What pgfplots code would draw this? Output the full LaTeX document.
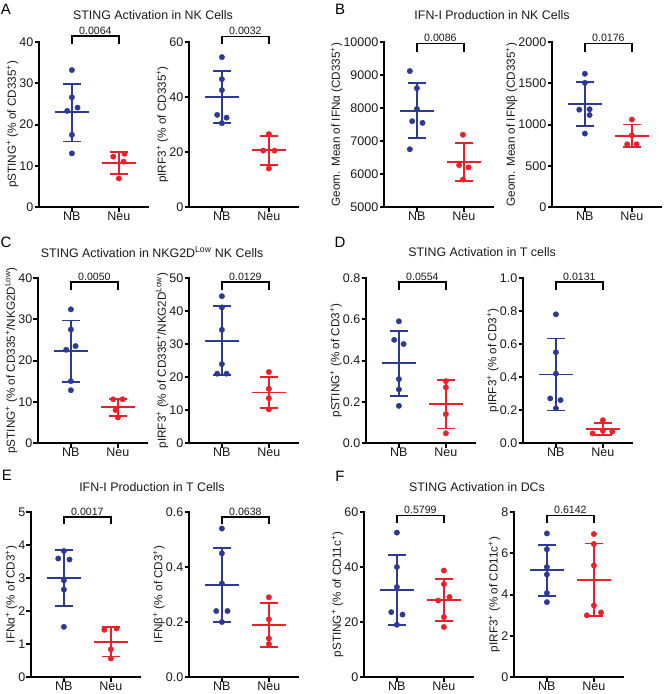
\documentclass[border=0pt]{standalone}
\usepackage{fontspec}
\setmainfont{Liberation Sans}
\usepackage{pgfplots}
\pgfplotsset{compat=1.18}
\definecolor{nbc}{RGB}{44,58,148}
\definecolor{nec}{RGB}{236,32,40}
\definecolor{txt}{RGB}{25,25,25}
\newcommand{\tickfont}{\fontsize{12.5}{14}\selectfont}
\newcommand{\labfont}{\fontsize{11.7}{13}\selectfont}
\newcommand{\titfont}{\fontsize{12.4}{14}\selectfont}
\newcommand{\pfont}{\fontsize{10.6}{12}\selectfont}
\newcommand{\letfont}{\fontsize{15}{17}\selectfont}
\newcommand{\sps}{\textsuperscript{+}}
\newcommand{\statNB}[3]{%
 \addplot[nbc, line width=1.8pt] coordinates {(-0.355,#1) (0.355,#1)};
 \addplot[nbc, line width=1.8pt] coordinates {(0,#2) (0,#3)};
 \addplot[nbc, line width=1.8pt] coordinates {(-0.185,#2) (0.185,#2)};
 \addplot[nbc, line width=1.8pt] coordinates {(-0.185,#3) (0.185,#3)};}
\newcommand{\statNeu}[3]{%
 \addplot[nec, line width=1.8pt] coordinates {(0.645,#1) (1.355,#1)};
 \addplot[nec, line width=1.8pt] coordinates {(1,#2) (1,#3)};
 \addplot[nec, line width=1.8pt] coordinates {(0.815,#2) (1.185,#2)};
 \addplot[nec, line width=1.8pt] coordinates {(0.815,#3) (1.185,#3)};}
\newcommand{\pbar}[3]{%
 \addplot[black, line width=1.6pt] coordinates {(0,#1) (0,#2) (1,#2) (1,#1)};
 \node[anchor=south, font=\pfont, text=txt, inner sep=1.5pt] at (axis cs:0.5,#2) {#3};}
\pgfplotsset{prism/.style={
  scale only axis, width=109pt, height=165pt,
  axis lines=left, axis line style={-, line width=2.1pt, line cap=rect},
  xmin=-0.7, xmax=1.62, xtick={0,1}, xticklabels={NB,Neu},
  scaled y ticks=false, scaled x ticks=false,
  tick align=outside, major tick length=4.5pt,
  major tick style={black, line width=2pt},
  tick label style={font=\tickfont, text=txt},
  yticklabel style={inner xsep=1pt},
  xticklabel style={inner ysep=0.5pt},
  ylabel style={font=\labfont, text=txt, inner sep=1pt},
  ylabel shift=-1pt,
  clip=false, anchor=south west},
  nbp/.style={only marks, mark=*, mark size=2.7pt, nbc, mark options={draw=nbc, fill=nbc}},
  nep/.style={only marks, mark=*, mark size=2.7pt, nec, mark options={draw=nec, fill=nec}}
}
\begin{document}
\begin{tikzpicture}
\useasboundingbox (0pt,0pt) rectangle (668pt,-694pt);
% titles and letters
\node[font=\letfont] at (6pt,-9pt) {A};
\node[font=\letfont] at (340pt,-9pt) {B};
\node[font=\letfont] at (6pt,-242pt) {C};
\node[font=\letfont] at (340pt,-242pt) {D};
\node[font=\letfont] at (7pt,-475pt) {E};
\node[font=\letfont] at (340pt,-476pt) {F};
\node[font=\titfont, text=txt] at (153pt,-15pt) {STING Activation in NK Cells};
\node[font=\titfont, text=txt] at (492pt,-15pt) {IFN-I Production in NK Cells};
\node[font=\titfont, text=txt] at (152pt,-252pt) {STING Activation in NKG2D\textsuperscript{Low} NK Cells};
\node[font=\titfont, text=txt] at (482pt,-252pt) {STING Activation in T cells};
\node[font=\titfont, text=txt] at (152pt,-487pt) {IFN-I Production in T Cells};
\node[font=\titfont, text=txt] at (477pt,-487pt) {STING Activation in DCs};

% ---------- A left
\begin{axis}[prism, at={(39pt,-207pt)}, ymin=0, ymax=40, ytick={0,10,20,30,40}, yticklabels={0,10,20,30,40},
  ylabel={pSTING\sps{} (\% of CD335\sps)}]
\statNB{23.0}{15.9}{29.9}
\statNeu{10.7}{8.0}{13.3}
\addplot[nbp] coordinates {(0,33.2) (0,26.6) (0.12,24.1) (-0.1,23.3) (0,17.5) (0,13.0)};
\addplot[nep] coordinates {(0.88,12.2) (1.12,12.9) (1.1,11.0) (1.0,6.9)};
\pbar{39.6}{41.4}{0.0064}
\end{axis}
% ---------- A right
\begin{axis}[prism, at={(189pt,-207pt)}, ymin=0, ymax=60, ytick={0,20,40,60}, yticklabels={0,20,40,60},
  ylabel={pIRF3\sps{} (\% of CD335\sps)}]
\statNB{40.0}{30.6}{49.5}
\statNeu{20.6}{15.4}{25.9}
\addplot[nbp] coordinates {(0,54.5) (0,46.5) (0,42.5) (-0.1,33.5) (0.1,32.5) (0,30.5)};
\addplot[nep] coordinates {(1,26.5) (0.88,20.5) (1.12,20.5) (1,14.0)};
\pbar{59.4}{62.0}{0.0032}
\end{axis}
% ---------- B left
\begin{axis}[prism, at={(384pt,-207pt)}, ymin=5000, ymax=10000, ytick={5000,6000,7000,8000,9000,10000},
  yticklabels={5000,6000,7000,8000,9000,10000},
  ylabel={Geom. Mean of IFNα (CD335\sps)}]
\statNB{7920}{7090}{8760}
\statNeu{6370}{5800}{6950}
\addplot[nbp] coordinates {(-0.15,9120) (0,8600) (0,7970) (-0.1,7600) (0.12,7550) (-0.15,6750)};
\addplot[nep] coordinates {(0.98,7190) (0.9,6270) (1.1,6200) (0.98,5830)};
\pbar{9695}{9950}{0.0086}
\end{axis}
% ---------- B right
\begin{axis}[prism, at={(552pt,-207pt)}, ymin=0, ymax=2000, ytick={0,500,1000,1500,2000},
  yticklabels={0,500,1000,1500,2000},
  ylabel={Geom. Mean of IFNβ (CD335\sps)}]
\statNB{1250}{982}{1515}
\statNeu{862}{725}{1000}
\addplot[nbp] coordinates {(0,1615) (0,1505) (-0.12,1180) (0.1,1185) (0.1,1115) (0,890)};
\addplot[nep] coordinates {(1,1060) (1,870) (0.9,760) (1.1,760)};
\pbar{1878}{1980}{0.0176}
\end{axis}
% ---------- C left
\begin{axis}[prism, at={(38pt,-443pt)}, ymin=0, ymax=40, ytick={0,10,20,30,40}, yticklabels={0,10,20,30,40},
  ylabel={pSTING\sps{} (\% of CD335\sps/NKG2D\textsuperscript{Low})}]
\statNB{22.3}{14.8}{29.7}
\statNeu{8.7}{6.6}{10.7}
\addplot[nbp] coordinates {(0,32.4) (0,27.5) (0.1,23.5) (-0.1,22.6) (0,15.0) (0,12.8)};
\addplot[nep] coordinates {(0.9,10.6) (1.1,10.6) (0.95,8.0) (1.0,6.2)};
\pbar{37.0}{39.0}{0.0050}
\end{axis}
% ---------- C right
\begin{axis}[prism, at={(189pt,-443pt)}, ymin=0, ymax=50, ytick={0,10,20,30,40,50}, yticklabels={0,10,20,30,40,50},
  ylabel={pIRF3\sps{} (\% of CD335\sps/NKG2D\textsuperscript{Low})}]
\statNB{31.0}{20.7}{41.4}
\statNeu{15.3}{10.6}{20.0}
\addplot[nbp] coordinates {(0,44.5) (0,41.1) (0,34.3) (0,23.9) (-0.1,21.0) (0.1,21.0)};
\addplot[nep] coordinates {(1,21.5) (1,16.4) (1,13.6) (1,10.2)};
\pbar{46.25}{48.8}{0.0129}
\end{axis}
% ---------- D left
\begin{axis}[prism, at={(366pt,-443pt)}, ymin=0, ymax=0.8, ytick={0,0.2,0.4,0.6,0.8}, yticklabels={0.0,0.2,0.4,0.6,0.8},
  ylabel={pSTING\sps{} (\% of CD3\sps)}]
\statNB{0.387}{0.228}{0.545}
\statNeu{0.189}{0.070}{0.307}
\addplot[nbp] coordinates {(0,0.59) (-0.1,0.50) (0.1,0.48) (0,0.31) (0,0.26) (0,0.18)};
\addplot[nep] coordinates {(1,0.30) (1,0.27) (1,0.14) (1,0.047)};
\pbar{0.743}{0.781}{0.0554}
\end{axis}
% ---------- D right
\begin{axis}[prism, at={(523pt,-443pt)}, ymin=0, ymax=1.0, ytick={0,0.2,0.4,0.6,0.8,1.0}, yticklabels={0.0,0.2,0.4,0.6,0.8,1.0},
  ylabel={pIRF3\sps{} (\% of CD3\sps)}]
\statNB{0.415}{0.197}{0.633}
\statNeu{0.085}{0.050}{0.120}
\addplot[nbp] coordinates {(0,0.78) (0,0.55) (0,0.42) (-0.12,0.27) (0.1,0.26) (0,0.21)};
\addplot[nep] coordinates {(1,0.138) (0.78,0.058) (1.0,0.075) (1.2,0.069)};
\pbar{0.929}{0.976}{0.0131}
\end{axis}
% ---------- E left
\begin{axis}[prism, at={(31pt,-677pt)}, ymin=0, ymax=5, ytick={0,1,2,3,4,5}, yticklabels={0,1,2,3,4,5},
  ylabel={IFNα\sps{} (\% of CD3\sps)}]
\statNB{3.0}{2.15}{3.85}
\statNeu{1.07}{0.62}{1.52}
\addplot[nbp] coordinates {(0,3.82) (-0.12,3.59) (0.12,3.56) (0,2.93) (0,2.65) (0,1.52)};
\addplot[nep] coordinates {(0.86,1.43) (1.12,1.47) (1,0.84) (1,0.56)};
\pbar{4.645}{4.85}{0.0017}
\end{axis}
% ---------- E right
\begin{axis}[prism, at={(189pt,-677pt)}, ymin=0, ymax=0.6, ytick={0,0.2,0.4,0.6}, yticklabels={0.0,0.2,0.4,0.6},
  ylabel={IFNβ\sps{} (\% of CD3\sps)}]
\statNB{0.335}{0.20}{0.47}
\statNeu{0.19}{0.11}{0.27}
\addplot[nbp] coordinates {(0,0.54) (0,0.45) (0,0.34) (-0.12,0.24) (0.12,0.24) (0,0.20)};
\addplot[nep] coordinates {(1,0.29) (1,0.21) (1,0.14) (1,0.12)};
\pbar{0.557}{0.582}{0.0638}
\end{axis}
% ---------- F left
\begin{axis}[prism, at={(364pt,-677pt)}, ymin=0, ymax=60, ytick={0,20,40,60}, yticklabels={0,20,40,60},
  ylabel={pSTING\sps{} (\% of CD11c\sps)}]
\statNB{31.7}{19.0}{44.4}
\statNeu{28.0}{20.5}{35.6}
\addplot[nbp] coordinates {(0,52.5) (0,40.0) (0,32.7) (-0.12,23.6) (0.12,22.7) (0,19.0)};
\addplot[nep] coordinates {(1,38.7) (1,33.8) (1.12,29.1) (0.88,27.8) (1,21.8) (1,18.2)};
\pbar{56.1}{58.8}{0.5799}
\end{axis}
% ---------- F right
\begin{axis}[prism, at={(514pt,-677pt)}, ymin=0, ymax=8, ytick={0,2,4,6,8}, yticklabels={0,2,4,6,8},
  ylabel={pIRF3\sps{} (\% of CD11c\sps)}]
\statNB{5.18}{3.93}{6.42}
\statNeu{4.72}{2.97}{6.47}
\addplot[nbp] coordinates {(0,6.96) (0,6.19) (0,5.33) (0,4.97) (0,4.07) (0,3.63)};
\addplot[nep] coordinates {(1,6.93) (1,6.45) (1,5.41) (1,3.47) (1.15,3.13) (0.85,2.99)};
\pbar{7.48}{7.84}{0.6142}
\end{axis}
\end{tikzpicture}
\end{document}
